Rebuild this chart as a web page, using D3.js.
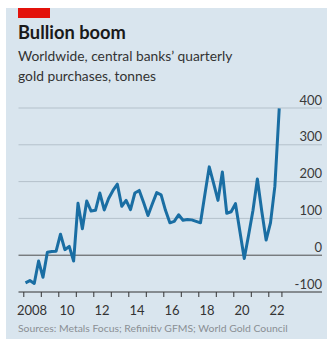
<!DOCTYPE html>
<html>
<head>
<meta charset="utf-8">
<script src="https://cdn.jsdelivr.net/npm/d3@7"></script>
<style>
  html, body { margin: 0; padding: 0; background: #ffffff; }
  svg { display: block; }
  text { font-family: Lato, "Open Sans", sans-serif; }
</style>
</head>
<body>
<svg id="chart" width="327" height="341"></svg>
<script>
// Central banks' net gold purchases, tonnes, by quarter (2008 Q1 – 2022 Q3)
const years = [2008, 2009, 2010, 2011, 2012, 2013, 2014, 2015, 2016, 2017, 2018, 2019, 2020, 2021, 2022];
const purchases = [
  -75, -69, -77, -16,
  -60, 8, 10, 11,
  57, 15, 24, -16,
  141, 72, 147, 120,
  122, 169, 123, 154,
  176, 193, 133, 149,
  124, 169, 176, 143,
  108, 140, 170, 164,
  122, 88, 92, 110,
  95, 97, 96, 92,
  88, 165, 240, 195,
  149, 226, 114, 118,
  140, 65, -9, 55,
  122, 207, 120, 41,
  88, 187, 399
];
const yTicks = [-100, 0, 100, 200, 300, 400];
const xLabels = [2008, 2010, 2012, 2014, 2016, 2018, 2020, 2022];

const title = "Bullion boom";
const subtitle = ["Worldwide, central banks’ quarterly", "gold purchases, tonnes"];
const source = "Sources: Metals Focus; Refinitiv GFMS; World Gold Council";

const svg = d3.select("#chart");

// panel background and red tag
svg.append("rect").attr("x", 6).attr("y", 8).attr("width", 321).attr("height", 331).attr("fill", "#d9e5ee");
svg.append("rect").attr("x", 18).attr("y", 8).attr("width", 32).attr("height", 10).attr("fill", "#e3120b");

svg.append("text").attr("x", 18).attr("y", 38.5)
  .attr("font-size", 18.3).attr("font-weight", 700).attr("fill", "#1a1a1a").text(title);
subtitle.forEach((s, i) => {
  svg.append("text").attr("x", 18).attr("y", 60.5 + i * 20)
    .attr("font-size", 13.8).attr("fill", "#333").text(s);
});

const endX = 2022.75;
const x = d3.scaleLinear().domain([2008, 2022]).range([23.3, 268.3]);
const y = d3.scaleLinear().domain([-100, 400]).range([292, 108]);

const gridLeft = 18.5, gridRight = 322;

// horizontal gridlines
svg.append("g").selectAll("line").data(yTicks.filter(v => v !== -100 && v !== 0)).join("line")
  .attr("x1", gridLeft).attr("x2", gridRight)
  .attr("y1", d => y(d)).attr("y2", d => y(d))
  .attr("stroke", "#b4c1cb").attr("stroke-width", 1);

// zero line
svg.append("line").attr("x1", gridLeft).attr("x2", gridRight)
  .attr("y1", y(0)).attr("y2", y(0)).attr("stroke", "#4d4d4d").attr("stroke-width", 1);

// y labels sit above their gridlines, right-aligned
svg.append("g").selectAll("text").data(yTicks).join("text")
  .attr("x", gridRight).attr("y", d => y(d) - 3.5)
  .attr("text-anchor", "end").attr("font-size", 13).attr("fill", "#3a3a3a")
  .text(d => d);

// x axis: ticks at year boundaries, labels centred within the year
const tickVals = years.concat([endX]);
const xAxis = d3.axisBottom(x).tickValues(tickVals).tickSize(5).tickFormat("");
const gx = svg.append("g").attr("transform", `translate(0,${y(-100)})`).call(xAxis);
gx.select(".domain").remove();
gx.selectAll(".tick line").attr("stroke", "#333").attr("stroke-width", 1);
svg.append("line").attr("x1", gridLeft).attr("x2", gridRight)
  .attr("y1", y(-100)).attr("y2", y(-100)).attr("stroke", "#333").attr("stroke-width", 1);

svg.append("g").selectAll("text").data(xLabels).join("text")
  .attr("x", d => x(d + 0.5)).attr("y", 315)
  .attr("text-anchor", "middle").attr("font-size", 13).attr("fill", "#333")
  .text(d => d === 2008 ? "2008" : String(d).slice(2));

// quarterly series line, plotted at quarter midpoints
const pts = purchases.map((v, i) => [2008 + (i + 0.5) / 4, v]);
const line = d3.line().x(d => x(d[0])).y(d => y(d[1]));
svg.append("path").datum(pts)
  .attr("d", line).attr("fill", "none")
  .attr("stroke", "#1a6ea3").attr("stroke-width", 3)
  .attr("stroke-linejoin", "round").attr("stroke-linecap", "butt");

svg.append("text").attr("x", 18).attr("y", 332)
  .attr("font-size", 10.4).attr("fill", "#8a8f94").text(source);
</script>
</body>
</html>
